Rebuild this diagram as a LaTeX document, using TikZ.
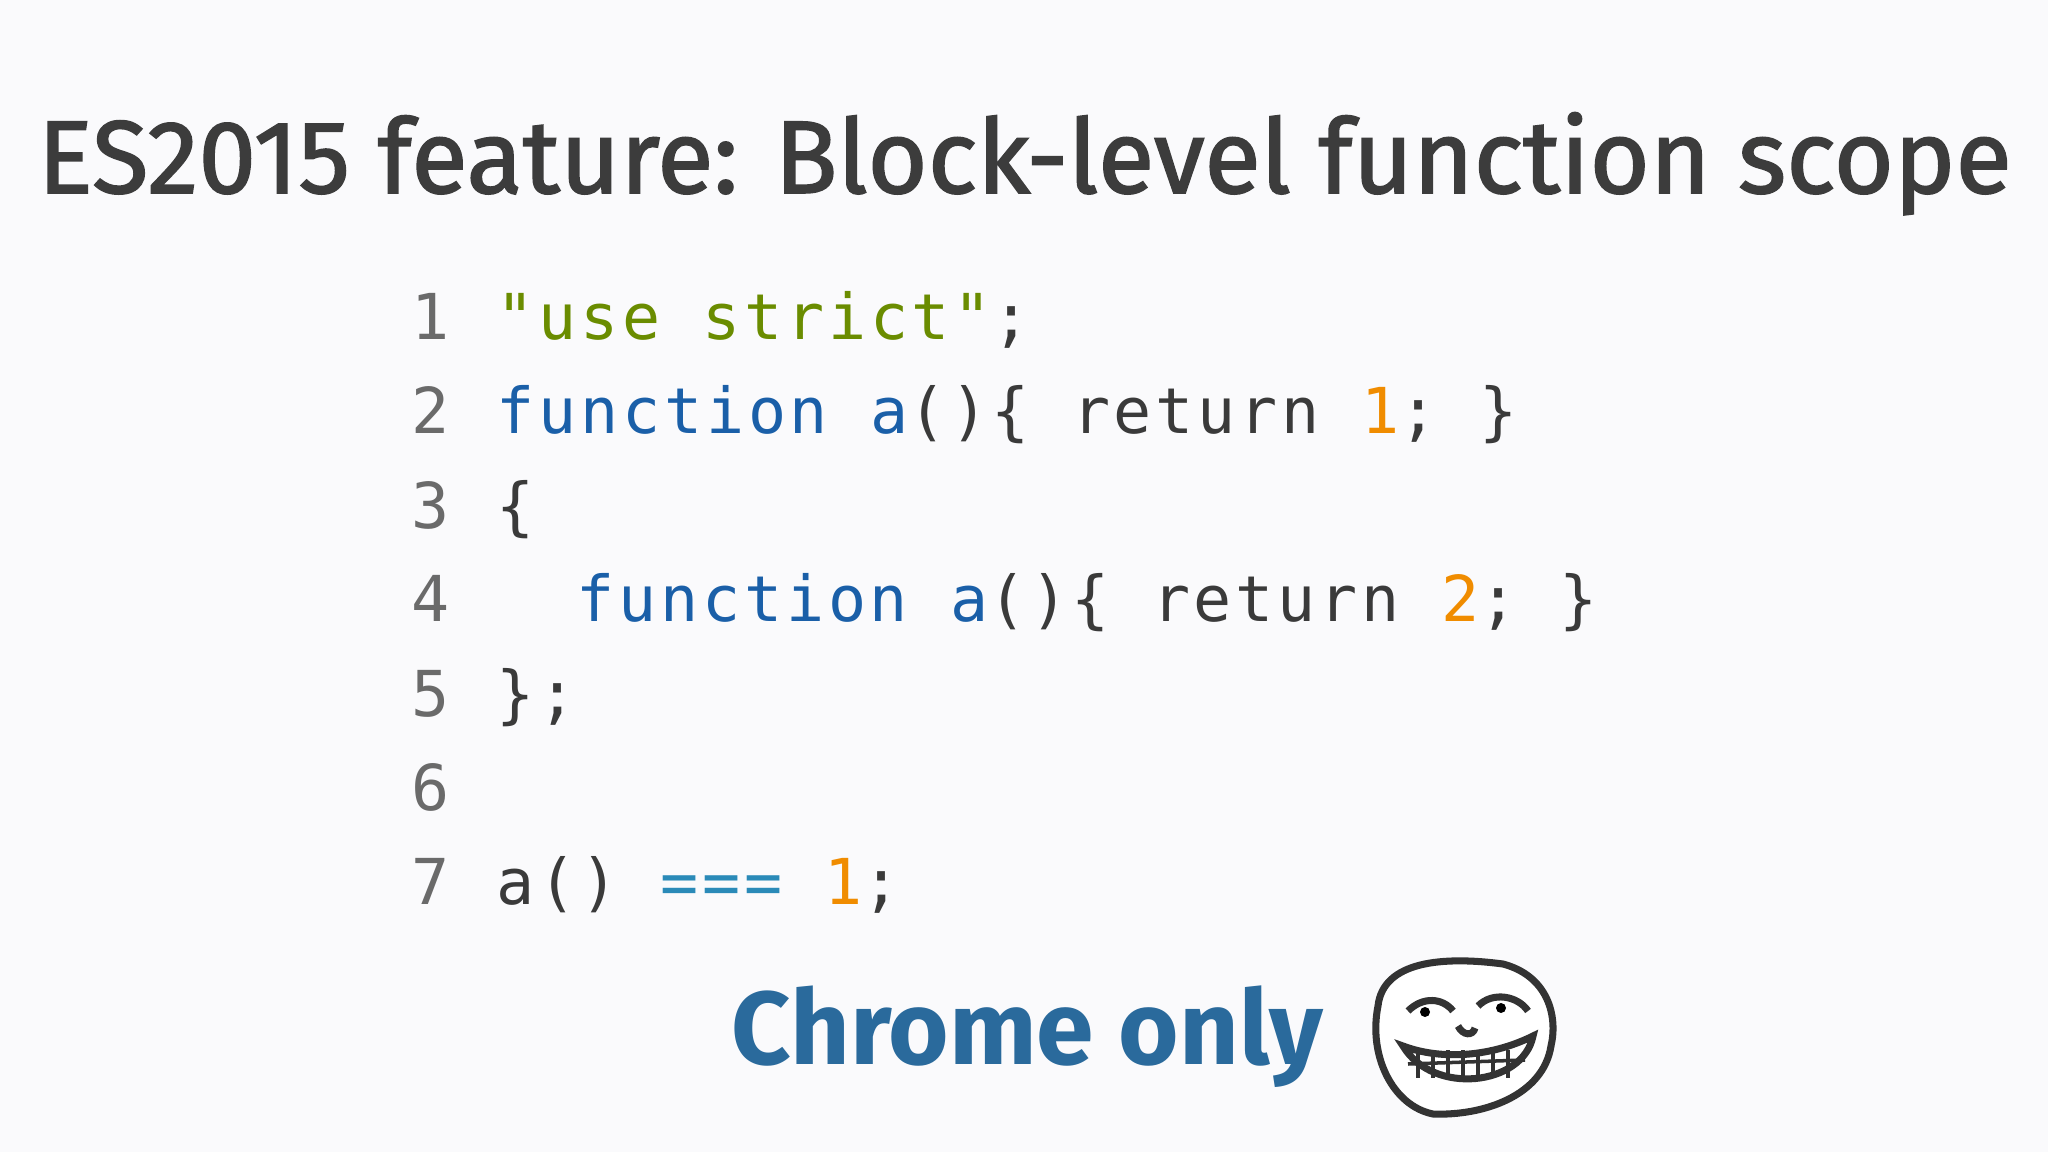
\documentclass[tikz,border=0pt]{standalone}
\usepackage{fontspec}
\setmainfont{Fira Sans}
\newfontfamily\codefont[LetterSpace=6]{DejaVu Sans Mono}
\definecolor{bg}{HTML}{FAFAFC}
\definecolor{ttl}{HTML}{3C3C3C}
\definecolor{lnum}{HTML}{6A6A6A}
\definecolor{str}{HTML}{6A8C00}
\definecolor{kw}{HTML}{1A5FA8}
\definecolor{numc}{HTML}{F08C00}
\definecolor{opc}{HTML}{2A8AB8}
\definecolor{txt}{HTML}{3A3A3A}
\definecolor{chrome}{HTML}{2A6A9C}
\tikzset{
  codeln/.style={anchor=base west,inner sep=0pt,font=\codefont\fontsize{18}{20}\selectfont,text=txt},
  numln/.style={codeln,text=lnum}
}
\begin{document}
\begin{tikzpicture}[x=0.01cm,y=-0.01cm]
\fill[bg] (0,0) rectangle (2048,1152);
\useasboundingbox (0,0) rectangle (2048,1152);
\node[anchor=base west,inner sep=0pt,text=ttl,font=\fontsize{29.4}{33}\selectfont\addfontfeatures{FakeBold=1.5}] (title) at (37,193) {ES2015 feature: Block-level function scope};
\foreach \n/\y in {1/340,2/434,3/528,4/622,5/716,6/810,7/904}{
  \node[numln] (n\n) at (411,\y) {\n};
}
\node[codeln] (l1) at (496,340) {\textcolor{str}{"use strict"};};
\node[codeln] (l2) at (496,434) {\textcolor{kw}{function a}()\{ return \textcolor{numc}{1}; \}};
\node[codeln] (l3) at (496,528) {\{};
\node[codeln] (l4) at (496,622) {\phantom{ab}\textcolor{kw}{function a}()\{ return \textcolor{numc}{2}; \}};
\node[codeln] (l5) at (496,716) {\};};
\node[codeln] (l7) at (496,904) {a() \textcolor{opc}{===} \textcolor{numc}{1};};
\node[anchor=base west,inner sep=0pt,text=chrome,font=\fontsize{29.5}{33}\selectfont\bfseries] (chr) at (731,1064) {Chrome only};
% troll face sketch
\begin{scope}[shift={(1463,1036)},line width=2pt,draw=black!80]
  \draw[fill=white] (-85,-30) .. controls (-80,-75) and (-20,-80) .. (40,-72)
     .. controls (85,-60) and (95,-20) .. (88,10)
     .. controls (80,60) and (20,80) .. (-30,78)
     .. controls (-70,70) and (-95,20) .. (-85,-30) -- cycle;
  \draw (-55,-25) .. controls (-40,-40) and (-20,-38) .. (-10,-25);
  \draw (15,-30) .. controls (30,-45) and (55,-40) .. (65,-25);
  \fill (-38,-24) circle (5);
  \fill (38,-28) circle (5);
  \draw[fill=white] (-60,10) .. controls (-20,25) and (30,20) .. (70,0)
     .. controls (60,50) and (-30,60) .. (-60,10) -- cycle;
  \foreach \x in {-45,-30,-15,0,15,30,45}{\draw[line width=1pt] (\x,14) -- (\x,42);}
  \draw[line width=1pt] (-55,28) -- (62,24);
  \draw (-5,-10) .. controls (0,0) and (10,0) .. (12,-8);
\end{scope}
\end{tikzpicture}
\end{document}
